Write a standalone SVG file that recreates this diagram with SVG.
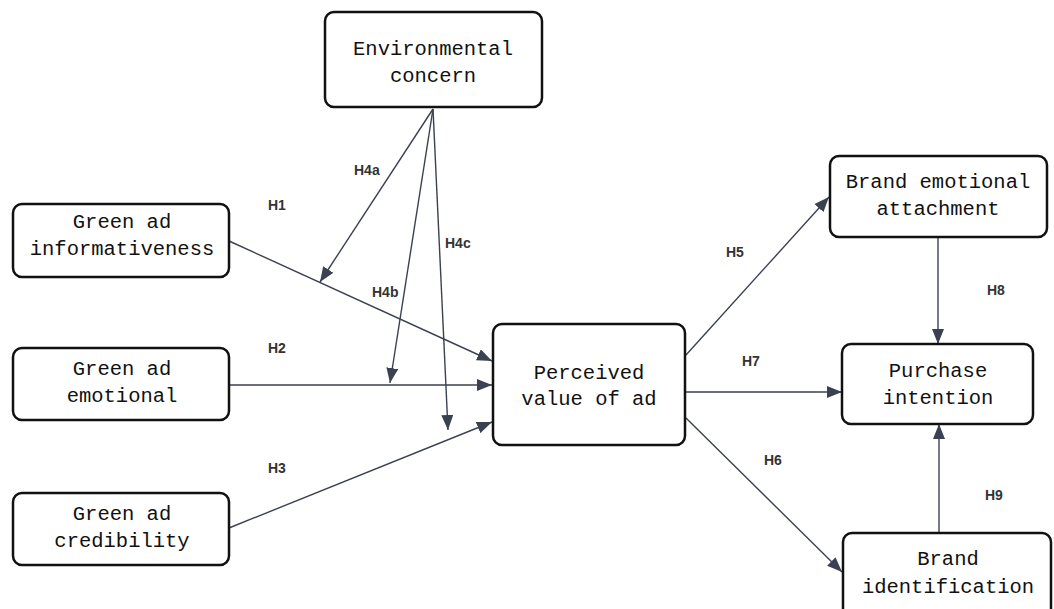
<svg xmlns="http://www.w3.org/2000/svg" width="1054" height="609" viewBox="0 0 1054 609">
<style>
.node rect{fill:#fff;stroke:#111;stroke-width:2.5}
.node text{font-family:"Liberation Mono","DejaVu Sans Mono",monospace;font-size:20.5px;fill:#111;text-anchor:middle}
.edge{stroke:#3b4150;stroke-width:1.4;fill:none;marker-end:url(#arr)}
.lbl{font-family:"Liberation Sans","DejaVu Sans",sans-serif;font-size:14px;font-weight:bold;fill:#333}
</style>
<defs>
<marker id="arr" markerUnits="userSpaceOnUse" markerWidth="16" markerHeight="12" viewBox="0 0 16 12" refX="15" refY="6" orient="auto">
<path d="M0,0 L15,6 L0,12 Z" fill="#3b4150"/>
</marker>
</defs>
<rect width="1054" height="609" fill="#fff"/>
<g id="connectors">
<line class="edge" x1="229" y1="241" x2="492" y2="361"/>
<line class="edge" x1="229" y1="385" x2="492" y2="385"/>
<line class="edge" x1="229" y1="528" x2="492" y2="422"/>
<line class="edge" x1="433" y1="109" x2="320" y2="282"/>
<line class="edge" x1="433" y1="109" x2="390" y2="383"/>
<line class="edge" x1="433" y1="109" x2="448" y2="430"/>
<line class="edge" x1="686" y1="355" x2="829" y2="197"/>
<line class="edge" x1="686" y1="418" x2="842" y2="572"/>
<line class="edge" x1="686" y1="392" x2="842" y2="392"/>
<line class="edge" x1="938" y1="237" x2="938" y2="344"/>
<line class="edge" x1="939" y1="533" x2="939" y2="424"/>
<text class="lbl" x="268" y="210">H1</text>
<text class="lbl" x="268" y="353">H2</text>
<text class="lbl" x="268" y="473">H3</text>
<text class="lbl" x="354" y="175">H4a</text>
<text class="lbl" x="372" y="297">H4b</text>
<text class="lbl" x="445" y="248">H4c</text>
<text class="lbl" x="726" y="257">H5</text>
<text class="lbl" x="764" y="465">H6</text>
<text class="lbl" x="742" y="366">H7</text>
<text class="lbl" x="987" y="295">H8</text>
<text class="lbl" x="985" y="500">H9</text>
</g>
<g id="env" class="node"><rect x="325" y="12" width="217" height="95" rx="9"/><text x="433" y="55">Environmental</text><text x="433" y="82">concern</text></g>
<g id="info" class="node"><rect x="13" y="204" width="216" height="73" rx="9"/><text x="122" y="228">Green ad</text><text x="122" y="255">informativeness</text></g>
<g id="emo" class="node"><rect x="13" y="348" width="216" height="72" rx="9"/><text x="122" y="375">Green ad</text><text x="122" y="402">emotional</text></g>
<g id="cred" class="node"><rect x="13" y="493" width="216" height="72" rx="9"/><text x="122" y="520">Green ad</text><text x="122" y="547">credibility</text></g>
<g id="pv" class="node"><rect x="493" y="324" width="192" height="121" rx="9"/><text x="589" y="379">Perceived</text><text x="589" y="405">value of ad</text></g>
<g id="bea" class="node"><rect x="830" y="156" width="217" height="81" rx="9"/><text x="938" y="188">Brand emotional</text><text x="938" y="215">attachment</text></g>
<g id="pi" class="node"><rect x="842" y="344" width="191" height="80" rx="9"/><text x="938" y="377">Purchase</text><text x="938" y="404">intention</text></g>
<g id="bi" class="node"><rect x="843" y="533" width="208" height="85" rx="9"/><text x="948" y="565">Brand</text><text x="948" y="593">identification</text></g>
</svg>
